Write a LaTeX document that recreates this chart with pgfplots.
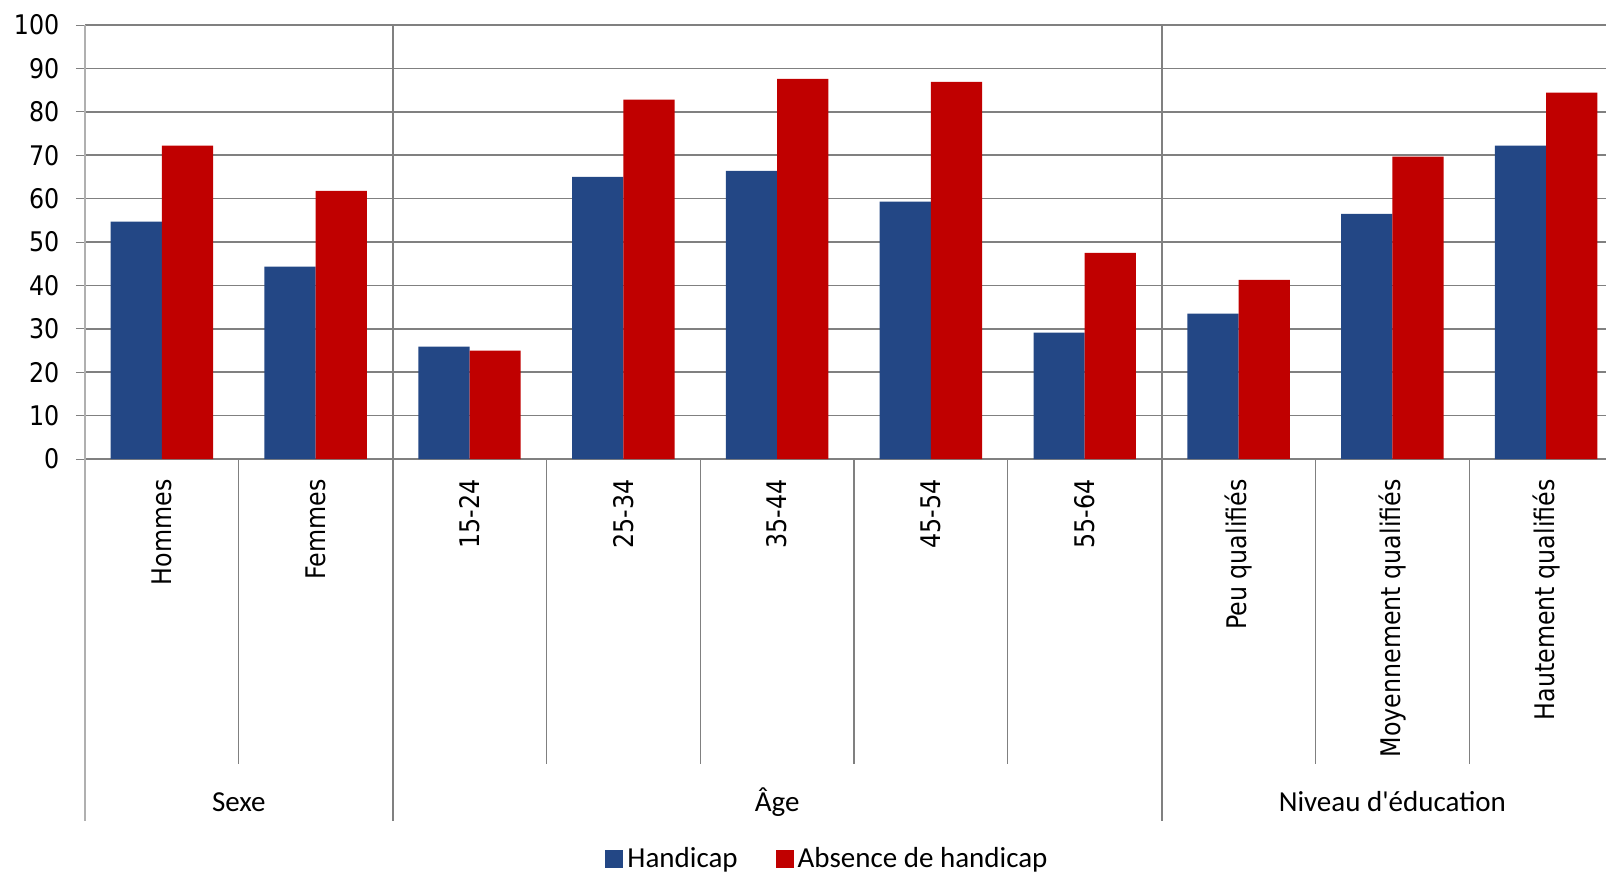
\documentclass[border=0pt]{standalone}
\usepackage{pgfplots}
\pgfplotsset{compat=1.18}
\usepackage{fontspec}
\setmainfont{Carlito}
\newfontfamily\tickfont[FakeStretch=0.88]{DejaVu Sans}
\definecolor{hblue}{RGB}{35,71,133}
\definecolor{hred}{RGB}{192,0,0}
\definecolor{gridgray}{RGB}{128,128,128}
\definecolor{axgray}{RGB}{176,176,176}
\begin{document}
\begin{tikzpicture}
\begin{axis}[
  at={(0pt,0pt)}, anchor=south west,
  scale only axis, width=760.5pt, height=217pt,
  xmin=-0.5, xmax=9.389, ymin=0, ymax=100,
  ybar, bar width=0.333,
  clip=false,
  axis line style={draw=none},
  ytick pos=left, tick align=outside, major tick length=4.5pt,
  ytick={0,10,...,100},
  ytick style={draw=gridgray, line width=0.5pt},
  xtick style={draw=none},
  ymajorgrids, major grid style={draw=gridgray, line width=0.75pt},
  xtick={0,...,9},
  xticklabels={Hommes,Femmes,15-24,25-34,35-44,45-54,55-64,Peu qualifiés,Moyennement qualifiés,Hautement qualifiés},
  xticklabel style={yshift=-5.5pt, rotate=90, anchor=east, inner sep=0pt, font=\tickfont\fontsize{13.5}{15}\selectfont},
  yticklabel style={font=\tickfont\fontsize{13.5}{15}\selectfont, xshift=-4.8pt},
  /pgf/number format/assume math mode=true,
  legend style={at={(0.4888,-0.9217)}, anchor=center, draw=none, fill=none,
    legend columns=2, font=\fontsize{14.5}{16}\selectfont,
    /tikz/every even column/.append style={column sep=17pt}},
  legend image code/.code={\fill[#1, draw=none] (0pt,-4.5pt) rectangle (9pt,4.5pt);},
]
\addplot[fill=hblue, draw=none, bar shift=-0.1665] coordinates {
 (0,54.7) (1,44.3) (2,25.9) (3,65.0) (4,66.4) (5,59.3) (6,29.1) (7,33.5) (8,56.5) (9,72.2)};
\addplot[fill=hred, draw=none, bar shift=0.1665] coordinates {
 (0,72.2) (1,61.8) (2,25.0) (3,82.8) (4,87.6) (5,86.9) (6,47.5) (7,41.3) (8,69.7) (9,84.4)};
\legend{Handicap,Absence de handicap}
% left axis line and outer separator
\draw[axgray, line width=0.6pt] (axis cs:-0.5,100) -- (axis cs:-0.5,0) -- ++(0pt,-181pt);
% group separators
\draw[gridgray, line width=1.1pt] (axis cs:1.5,100) -- (axis cs:1.5,0) -- ++(0pt,-181pt);
\draw[gridgray, line width=1.1pt] (axis cs:6.5,100) -- (axis cs:6.5,0) -- ++(0pt,-181pt);
% inner separators
\pgfplotsinvokeforeach{0.5,2.5,3.5,4.5,5.5,7.5,8.5}{
  \draw[gridgray, line width=0.6pt] (axis cs:#1,0) -- ++(0pt,-152.5pt);
}
\node[font=\fontsize{14.5}{16}\selectfont] at ([yshift=-171.5pt]axis cs:0.5,0) {Sexe};
\node[font=\fontsize{14.5}{16}\selectfont] at ([yshift=-171.5pt]axis cs:4,0) {Âge};
\node[font=\fontsize{14.5}{16}\selectfont] at ([yshift=-171.5pt]axis cs:8,0) {Niveau d\textquotesingle éducation};
\end{axis}
\pgfresetboundingbox
\path[use as bounding box] (-42.5pt,-207.5pt) rectangle (760.5pt,229.5pt);
\end{tikzpicture}
\end{document}
